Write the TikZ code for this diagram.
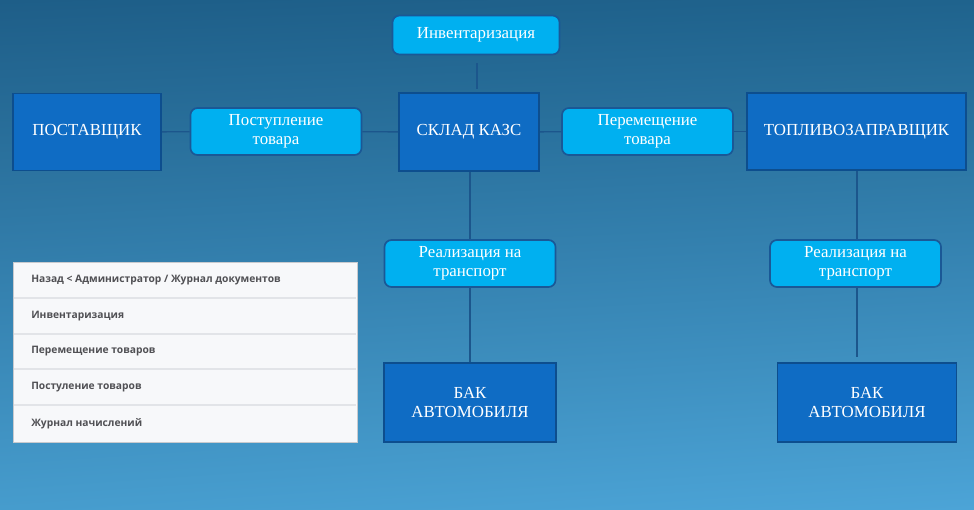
\documentclass[tikz,border=0pt]{standalone}
\usepackage{fontspec}
\setmainfont{Liberation Serif}
\newfontfamily\menufont{Open Sans}
\usetikzlibrary{positioning,shadings}

% Colours of the scheme
\definecolor{bgul}{RGB}{30,94,136}
\definecolor{bgur}{RGB}{31,99,141}
\definecolor{bgll}{RGB}{70,156,205}
\definecolor{bglr}{RGB}{76,164,215}
\definecolor{boxfill}{RGB}{15,108,196}
\definecolor{boxedge}{RGB}{13,78,142}
\definecolor{stagefill}{RGB}{0,176,240}
\definecolor{stageedge}{RGB}{26,88,150}
\definecolor{linkcol}{RGB}{28,86,140}
\definecolor{panelfill}{RGB}{247,248,250}
\definecolor{paneledge}{RGB}{200,202,206}
\definecolor{panelrule}{RGB}{226,228,232}
\definecolor{menutext}{RGB}{80,80,84}

\begin{document}
\begin{tikzpicture}[x=0.025cm, y=-0.025cm,
    mainbox/.style={draw=boxedge, fill=boxfill, line width=1.2pt, text=white,
        align=center, inner sep=0pt, font=\fontsize{12}{14}\selectfont},
    stagebox/.style={draw=stageedge, fill=stagefill, line width=1.2pt, text=white,
        rounded corners=5pt, align=center, inner sep=0pt,
        minimum width=4.275cm, minimum height=1.175cm, font=\fontsize{12}{13.5}\selectfont},
    link/.style={draw=linkcol, line width=1pt},
    menuitem/.style={anchor=west, inner sep=0pt, text=menutext,
        font=\menufont\bfseries\fontsize{7.3}{8}\selectfont}]

    % Fix the size of the picture
    \useasboundingbox (0,0) rectangle (974,509);

    % Draw the background gradient
    \shade[upper left=bgul, upper right=bgur, lower left=bgll, lower right=bglr]
        (0,0) rectangle (974,509);

    % Place the main boxes of the scheme
    \node[mainbox, minimum width=3.7cm, minimum height=1.925cm] (Supplier) at (87,132) {ПОСТАВЩИК};
    \node[mainbox, minimum width=3.5cm, minimum height=1.95cm] (Store) at (469,132) {СКЛАД КАЗС};
    \node[mainbox, minimum width=5.475cm, minimum height=1.925cm] (Tanker) at (856.5,131.5) {ТОПЛИВОЗАПРАВЩИК};
    \node[mainbox, minimum width=4.3cm, minimum height=1.975cm] (TankA) at (470,402.5) {БАК\\АВТОМОБИЛЯ};
    \node[mainbox, minimum width=4.475cm, minimum height=1.975cm] (TankB) at (867,402.5) {БАК\\АВТОМОБИЛЯ};

    % Place the operation boxes between them
    \node[stagebox, minimum width=4.175cm, minimum height=0.975cm] (Inventory) at (476,35) {Инвентаризация};
    \node[stagebox] (Receipt) at (276,131.5) {Поступление\\товара};
    \node[stagebox] (Transfer) at (647.5,131.5) {Перемещение\\товара};
    \node[stagebox] (SaleA) at (470,263.5) {Реализация на\\транспорт};
    \node[stagebox] (SaleB) at (855.5,263.5) {Реализация на\\транспорт};

    % Free ends of the short connectors
    \coordinate (InvTop) at (477,63);
    \coordinate (InvBottom) at (477,89);
    \coordinate (SaleEnd) at (857,357);

    % Draw the connectors
    \draw[link] (Supplier) -- (Receipt);
    \draw[link] (Receipt) -- (Store);
    \draw[link] (Store) -- (Transfer);
    \draw[link] (Transfer) -- (Tanker);
    \draw[link] (InvTop) -- (InvBottom);
    \draw[link] (Store.south -| SaleA.north) -- (SaleA.north);
    \draw[link] (SaleA) -- (TankA);
    \draw[link] (Tanker.south -| SaleEnd) -- (SaleB.north -| SaleEnd);
    \draw[link] (SaleB.south -| SaleEnd) -- (SaleEnd);

    % Draw the menu panel with its rows
    \draw[fill=panelfill, draw=paneledge, line width=0.6pt] (13,262) rectangle (357,442);
    \draw[panelrule, line width=1pt] (14,298) -- (356,298);
    \draw[panelrule, line width=1pt] (14,334) -- (356,334);
    \draw[panelrule, line width=1pt] (14,369) -- (356,369);
    \draw[panelrule, line width=1pt] (14,405) -- (356,405);

    % Write the menu entries
    \node[menuitem] (MenuBack) at (31,280) {Назад < Администратор / Журнал документов};
    \node[menuitem] (MenuInventory) at (31,316) {Инвентаризация};
    \node[menuitem] (MenuTransfer) at (31,351.5) {Перемещение товаров};
    \node[menuitem] (MenuReceipt) at (31,387) {Постуление товаров};
    \node[menuitem] (MenuJournal) at (31,423.5) {Журнал начислений};

\end{tikzpicture}
\end{document}
